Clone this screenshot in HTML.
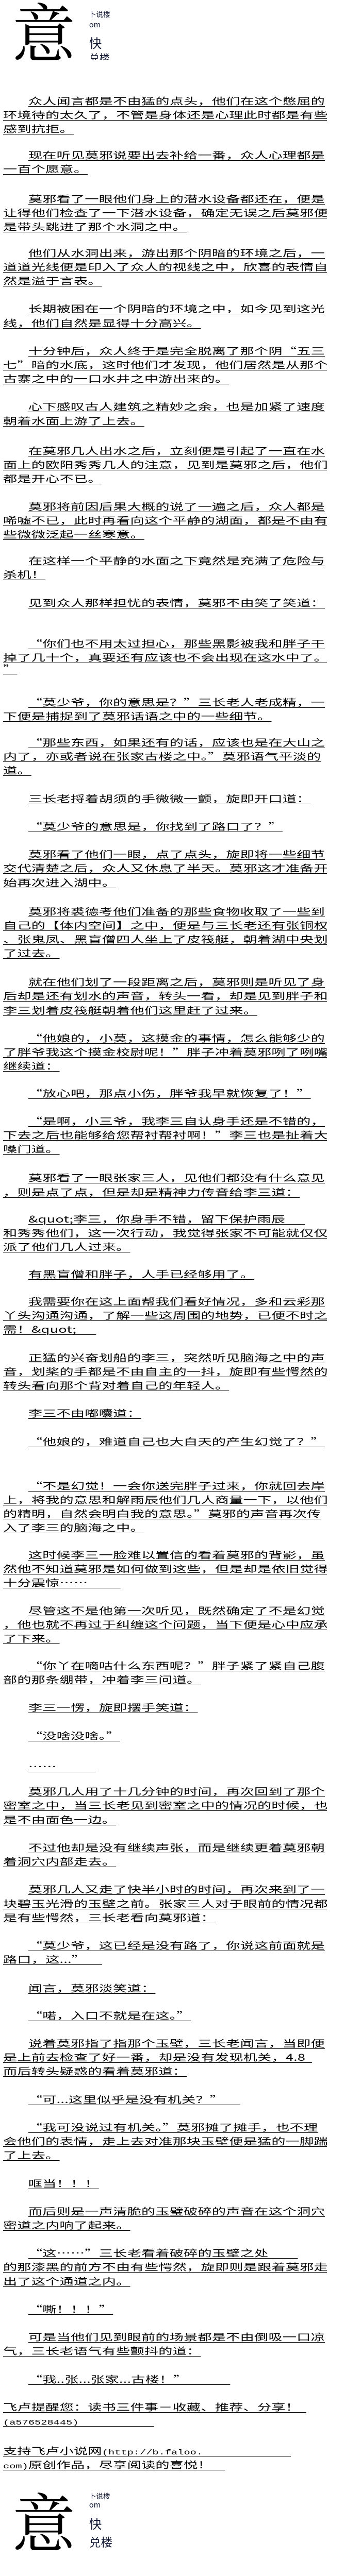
<!DOCTYPE html>
<html><head><meta charset="utf-8"><style>
html,body{margin:0;padding:0;background:#fff;overflow:hidden;}
#w{zoom:0.905;width:700px;height:5520px;position:relative;overflow:hidden;font-family:"Noto Sans CJK SC","WenQuanYi Zen Hei",sans-serif;color:#000;background:#fff;}
.p{position:absolute;left:7px;font-size:20px;line-height:30px;letter-spacing:0.2px;white-space:nowrap;transform:scaleX(1.5);transform-origin:0 0;}
.p div{height:30px;}
.p span{text-decoration:underline;text-decoration-thickness:1px;text-underline-offset:3px;}
.p .f{padding-left:32px;}
.p .f > span{padding-left:4px;}
.logo{position:absolute;left:26px;font-family:"Noto Serif CJK SC",serif;font-size:136px;line-height:1;}
.s{position:absolute;left:191px;font-family:"Noto Sans CJK SC",sans-serif;color:#111833;white-space:nowrap;overflow:hidden;}
.m{font-family:"Liberation Mono",monospace;font-size:15px;letter-spacing:0;}
</style></head><body><div id="w">

<div class="logo" style="top:-4px">意</div>
<div class="s" style="top:21px;font-size:15px;line-height:18px;">卜说楼</div>
<div class="s" style="top:44px;font-size:16px;line-height:18px;">om</div>
<div class="s" style="top:78px;font-size:27px;line-height:28px;">快</div>
<div class="s" style="top:112px;font-size:22px;line-height:24px;height:16px;">兑楼</div>

<div class="p" style="top:202px"><div class="f"><span>众人闻言都是不由猛的点头，他们在这个憋屈的</span></div><div><span>环境待的太久了，不管是身体还是心理此时都是有些</span></div><div><span>感到抗拒。</span></div></div>
<div class="p" style="top:318px"><div class="f"><span>现在听见莫邪说要出去补给一番，众人心理都是</span></div><div><span>一百个愿意。</span></div></div>
<div class="p" style="top:412px"><div class="f"><span>莫邪看了一眼他们身上的潜水设备都还在，便是</span></div><div><span>让得他们检查了一下潜水设备，确定无误之后莫邪便</span></div><div><span>是带头跳进了那个水洞之中。</span></div></div>
<div class="p" style="top:528px"><div class="f"><span>他们从水洞出来，游出那个阴暗的环境之后，一</span></div><div><span>道道光线便是印入了众人的视线之中，欣喜的表情自</span></div><div><span>然是溢于言表。</span></div></div>
<div class="p" style="top:648px"><div class="f"><span>长期被困在一个阴暗的环境之中，如今见到这光</span></div><div><span>线，他们自然是显得十分高兴。</span></div></div>
<div class="p" style="top:738px"><div class="f"><span>十分钟后，众人终于是完全脱离了那个阴“五三</span></div><div><span>七”暗的水底，这时他们才发现，他们居然是从那个</span></div><div><span>古寨之中的一口水井之中游出来的。</span></div></div>
<div class="p" style="top:858px"><div class="f"><span>心下感叹古人建筑之精妙之余，也是加紧了速度</span></div><div><span>朝着水面上游了上去。</span></div></div>
<div class="p" style="top:952px"><div class="f"><span>在莫邪几人出水之后，立刻便是引起了一直在水</span></div><div><span>面上的欧阳秀秀几人的注意，见到是莫邪之后，他们</span></div><div><span>都是开心不已。</span></div></div>
<div class="p" style="top:1072px"><div class="f"><span>莫邪将前因后果大概的说了一遍之后，众人都是</span></div><div><span>唏嘘不已，此时再看向这个平静的湖面，都是不由有</span></div><div><span>些微微泛起一丝寒意。</span></div></div>
<div class="p" style="top:1188px"><div class="f"><span>在这样一个平静的水面之下竟然是充满了危险与</span></div><div><span>杀机！</span></div></div>
<div class="p" style="top:1278px"><div class="f"><span>见到众人那样担忧的表情，莫邪不由笑了笑道：</span></div></div>
<div class="p" style="top:1366px"><div class="f"><span>“你们也不用太过担心，那些黑影被我和胖子干</span></div><div><span>掉了几十个，真要还有应该也不会出现在这水中了。</span></div><div style="height:24px;margin-top:-6px"><span>”</span></div></div>
<div class="p" style="top:1492px"><div class="f"><span>“莫少爷，你的意思是？”三长老人老成精，一</span></div><div><span>下便是捕捉到了莫邪话语之中的一些细节。</span></div></div>
<div class="p" style="top:1578px"><div class="f"><span>“那些东西，如果还有的话，应该也是在大山之</span></div><div><span>内了，亦或者说在张家古楼之中。”莫邪语气平淡的</span></div><div><span>道。</span></div></div>
<div class="p" style="top:1698px"><div class="f"><span>三长老捋着胡须的手微微一颤，旋即开口道：</span></div></div>
<div class="p" style="top:1758px"><div class="f"><span>“莫少爷的意思是，你找到了路口了？”</span></div></div>
<div class="p" style="top:1818px"><div class="f"><span>莫邪看了他们一眼，点了点头，旋即将一些细节</span></div><div><span>交代清楚之后，众人又休息了半天。莫邪这才准备开</span></div><div><span>始再次进入湖中。</span></div></div>
<div class="p" style="top:1940px"><div class="f"><span>莫邪将裘德考他们准备的那些食物收取了一些到</span></div><div><span>自己的【体内空间】之中，便是与三长老还有张铜权</span></div><div><span>、张鬼凤、黑盲僧四人坐上了皮筏艇，朝着湖中央划</span></div><div><span>了过去。</span></div></div>
<div class="p" style="top:2092px"><div class="f"><span>就在他们划了一段距离之后，莫邪则是听见了身</span></div><div><span>后却是还有划水的声音，转头一看，却是见到胖子和</span></div><div><span>李三划着皮筏艇朝着他们这里赶了过来。</span></div></div>
<div class="p" style="top:2212px"><div class="f"><span>“他娘的，小莫，这摸金的事情，怎么能够少的</span></div><div><span>了胖爷我这个摸金校尉呢！”胖子冲着莫邪咧了咧嘴</span></div><div><span>继续道：</span></div></div>
<div class="p" style="top:2330px"><div class="f"><span>“放心吧，那点小伤，胖爷我早就恢复了！”</span></div></div>
<div class="p" style="top:2390px"><div class="f"><span>“是啊，小三爷，我李三自认身手还是不错的，</span></div><div><span>下去之后也能够给您帮衬帮衬啊！”李三也是扯着大</span></div><div><span>嗓门道。</span></div></div>
<div class="p" style="top:2512px"><div class="f"><span>莫邪看了一眼张家三人，见他们都没有什么意见</span></div><div><span>，则是点了点，但是却是精神力传音给李三道：</span></div></div>
<div class="p" style="top:2600px"><div class="f"><span>&amp;quot;李三，你身手不错，留下保护雨辰&nbsp;&nbsp;&nbsp;&nbsp;&nbsp;&nbsp;</span></div><div><span>和秀秀他们，这一次行动，我觉得张家不可能就仅仅</span></div><div><span>派了他们几人过来。</span></div></div>
<div class="p" style="top:2718px"><div class="f"><span>有黑盲僧和胖子，人手已经够用了。</span></div></div>
<div class="p" style="top:2777px"><div class="f"><span>我需要你在这上面帮我们看好情况，多和云彩那</span></div><div><span>丫头沟通沟通，了解一些这周围的地势，已便不时之</span></div><div><span>需！&amp;quot;&nbsp;&nbsp;&nbsp;&nbsp;&nbsp;&nbsp;</span></div></div>
<div class="p" style="top:2897px"><div class="f"><span>正猛的兴奋划船的李三，突然听见脑海之中的声</span></div><div><span>音，划桨的手都是不由自主的一抖，旋即有些愕然的</span></div><div><span>转头看向那个背对着自己的年轻人。</span></div></div>
<div class="p" style="top:3017px"><div class="f"><span>李三不由嘟囔道：</span></div></div>
<div class="p" style="top:3077px"><div class="f"><span>“他娘的，难道自己也大白天的产生幻觉了？”</span></div></div>
<div class="p" style="top:3172px"><div class="f"><span>“不是幻觉！一会你送完胖子过来，你就回去岸</span></div><div><span>上，将我的意思和解雨辰他们几人商量一下，以他们</span></div><div><span>的精明，自然会明白我的意思。”莫邪的声音再次传</span></div><div><span>入了李三的脑海之中。</span></div></div>
<div class="p" style="top:3320px"><div class="f"><span>这时候李三一脸难以置信的看着莫邪的背影，虽</span></div><div><span>然他不知道莫邪是如何做到这些，但是却是依旧觉得</span></div><div><span>十分震惊……&nbsp;&nbsp;&nbsp;&nbsp;&nbsp;&nbsp;&nbsp;&nbsp;&nbsp;&nbsp;</span></div></div>
<div class="p" style="top:3440px"><div class="f"><span>尽管这不是他第一次听见，既然确定了不是幻觉</span></div><div><span>，他也就不再过于纠缠这个问题，当下便是心中应承</span></div><div><span>了下来。</span></div></div>
<div class="p" style="top:3558px"><div class="f"><span>“你丫在嘀咕什么东西呢？”胖子紧了紧自己腹</span></div><div><span>部的那条绷带，冲着李三问道。</span></div></div>
<div class="p" style="top:3648px"><div class="f"><span>李三一愣，旋即摆手笑道：</span></div></div>
<div class="p" style="top:3708px"><div class="f"><span>“没啥没啥。”</span></div></div>
<div class="p" style="top:3775px"><div class="f"><span>……&nbsp;&nbsp;&nbsp;&nbsp;&nbsp;&nbsp;&nbsp;&nbsp;&nbsp;&nbsp;&nbsp;&nbsp;</span></div></div>
<div class="p" style="top:3828px"><div class="f"><span>莫邪几人用了十几分钟的时间，再次回到了那个</span></div><div><span>密室之中，当三长老见到密室之中的情况的时候，也</span></div><div><span>是不由面色一边。</span></div></div>
<div class="p" style="top:3948px"><div class="f"><span>不过他却是没有继续声张，而是继续更着莫邪朝</span></div><div><span>着洞穴内部走去。</span></div></div>
<div class="p" style="top:4038px"><div class="f"><span>莫邪几人又走了快半小时的时间，再次来到了一</span></div><div><span>块碧玉光滑的玉壁之前。张家三人对于眼前的情况都</span></div><div><span>是有些愕然，三长老看向莫邪道：</span></div></div>
<div class="p" style="top:4158px"><div class="f"><span>“莫少爷，这已经是没有路了，你说这前面就是</span></div><div><span>路口，这...”&nbsp;&nbsp;&nbsp;&nbsp;&nbsp;</span></div></div>
<div class="p" style="top:4250px"><div class="f"><span>闻言，莫邪淡笑道：</span></div></div>
<div class="p" style="top:4308px"><div class="f"><span>“喏，入口不就是在这。”</span></div></div>
<div class="p" style="top:4368px"><div class="f"><span>说着莫邪指了指那个玉壁，三长老闻言，当即便</span></div><div><span>是上前去检查了好一番，却是没有发现机关，4.8&nbsp;&nbsp;</span></div><div><span>而后转头疑惑的看着莫邪道：</span></div></div>
<div class="p" style="top:4488px"><div class="f"><span>“可...这里似乎是没有机关？”&nbsp;&nbsp;&nbsp;&nbsp;&nbsp;</span></div></div>
<div class="p" style="top:4548px"><div class="f"><span>“我可没说过有机关。”莫邪摊了摊手，也不理</span></div><div><span>会他们的表情，走上去对准那块玉壁便是猛的一脚踹</span></div><div><span>了上去。</span></div></div>
<div class="p" style="top:4668px"><div class="f"><span>哐当！！！</span></div></div>
<div class="p" style="top:4728px"><div class="f"><span>而后则是一声清脆的玉璧破碎的声音在这个洞穴</span></div><div><span>密道之内响了起来。</span></div></div>
<div class="p" style="top:4818px"><div class="f"><span>“这……”三长老看着破碎的玉壁之处&nbsp;&nbsp;&nbsp;&nbsp;&nbsp;&nbsp;&nbsp;&nbsp;&nbsp;</span></div><div><span>的那漆黑的前方不由有些愕然，旋即则是跟着莫邪走</span></div><div><span>出了这个通道之内。</span></div></div>
<div class="p" style="top:4938px"><div class="f"><span>“嘶！！！”</span></div></div>
<div class="p" style="top:4998px"><div class="f"><span>可是当他们见到眼前的场景都是不由倒吸一口凉</span></div><div><span>气，三长老语气有些颤抖的道：</span></div></div>
<div class="p" style="top:5088px"><div class="f"><span>“我..张...张家...古楼！”&nbsp;&nbsp;&nbsp;&nbsp;&nbsp;&nbsp;&nbsp;&nbsp;&nbsp;&nbsp;&nbsp;&nbsp;&nbsp;</span></div></div>
<div class="p" style="top:5148px"><div><span>飞卢提醒您：读书三件事－收藏、推荐、分享！&nbsp;&nbsp;</span></div><div><span class="m">(a576528445)&nbsp;&nbsp;&nbsp;&nbsp;&nbsp;&nbsp;&nbsp;&nbsp;&nbsp;&nbsp;&nbsp;&nbsp;</span></div></div>
<div class="p" style="top:5242px"><div><span>支持飞卢小说网<span class="m">(http://b.faloo.&nbsp;&nbsp;&nbsp;&nbsp;&nbsp;&nbsp;&nbsp;&nbsp;&nbsp;&nbsp;&nbsp;&nbsp;&nbsp;&nbsp;</span></span></div><div><span><span class="m">com)</span>原创作品，尽享阅读的喜悦！&nbsp;&nbsp;&nbsp;&nbsp;</span></div></div>

<div class="logo" style="top:5336px">意</div>
<div class="s" style="top:5344px;font-size:15px;line-height:18px;">卜说楼</div>
<div class="s" style="top:5363px;font-size:16px;line-height:18px;">om</div>
<div class="s" style="top:5399px;font-size:27px;line-height:28px;">快</div>
<div class="s" style="top:5438px;font-size:25px;line-height:28px;">兑楼</div>

</div></body></html>
